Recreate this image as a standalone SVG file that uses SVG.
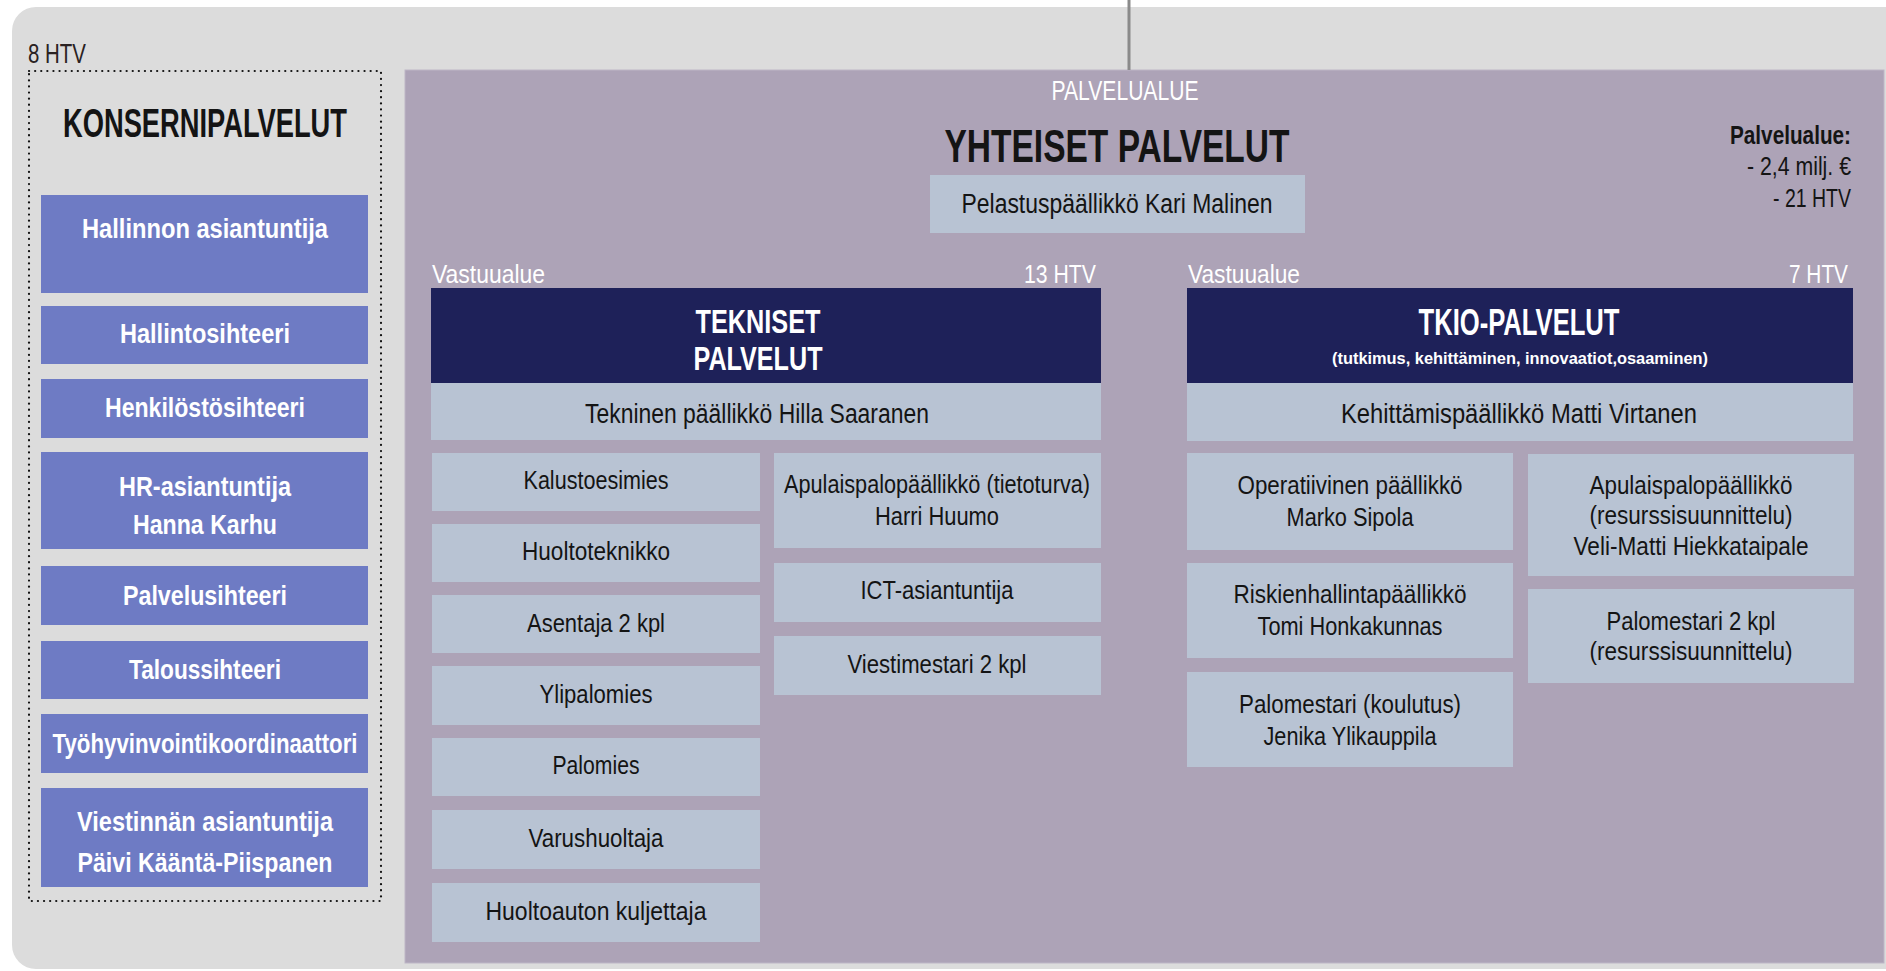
<svg xmlns="http://www.w3.org/2000/svg" width="1886" height="971" viewBox="0 0 1886 971">
<style>
.t{font-family:"Liberation Sans Narrow","Liberation Sans",Arial,sans-serif;}
.b{font-weight:bold;}
.m{text-anchor:middle;}
.e{text-anchor:end;}
.w{fill:#ffffff;}
.k{fill:#141414;}
.blue{fill:#6e7bc4;}
.lt{fill:#b8c3d3;}
.nv{fill:#1e2159;}
.f26{font-size:26px;}
.f27{font-size:27px;}
.f28{font-size:28px;}
</style>
<rect x="12" y="7" width="1900" height="962" rx="24" fill="#dcdcdc"/>
<rect x="405" y="70" width="1479" height="893" fill="#ada3b7" stroke="#bdb6c6" stroke-width="1"/>
<g id="connectors">
<line x1="1129" y1="0" x2="1129" y2="70" stroke="#8a8a8a" stroke-width="3"/>
</g>
<g id="konsernipalvelut">
<text class="t f28" x="28" y="63" fill="#2a2222" textLength="58" lengthAdjust="spacingAndGlyphs">8 HTV</text>
<rect x="29" y="71" width="352" height="830" fill="none" stroke="#111" stroke-width="2.2" stroke-dasharray="0.1 6" stroke-linecap="round"/>
<text class="t b m k" x="205" y="137" font-size="40" textLength="284" lengthAdjust="spacingAndGlyphs">KONSERNIPALVELUT</text>
</g>
<g id="k-hallinnon">
<rect class="blue" x="41" y="195" width="327" height="98"/>
<text class="t b m w f28" x="205" y="238" textLength="246" lengthAdjust="spacingAndGlyphs">Hallinnon asiantuntija</text>
</g>
<g id="k-hallintosihteeri">
<rect class="blue" x="41" y="306" width="327" height="58"/>
<text class="t b m w f28" x="205" y="343" textLength="170" lengthAdjust="spacingAndGlyphs">Hallintosihteeri</text>
</g>
<g id="k-henkilostosihteeri">
<rect class="blue" x="41" y="379" width="327" height="59"/>
<text class="t b m w f28" x="205" y="417" textLength="200" lengthAdjust="spacingAndGlyphs">Henkilöstösihteeri</text>
</g>
<g id="k-hr">
<rect class="blue" x="41" y="452" width="327" height="97"/>
<text class="t b m w f28" x="205" y="496" textLength="172" lengthAdjust="spacingAndGlyphs">HR-asiantuntija</text>
<text class="t b m w f28" x="205" y="534" textLength="144" lengthAdjust="spacingAndGlyphs">Hanna Karhu</text>
</g>
<g id="k-palvelusihteeri">
<rect class="blue" x="41" y="566" width="327" height="59"/>
<text class="t b m w f28" x="205" y="605" textLength="164" lengthAdjust="spacingAndGlyphs">Palvelusihteeri</text>
</g>
<g id="k-taloussihteeri">
<rect class="blue" x="41" y="641" width="327" height="58"/>
<text class="t b m w f28" x="205" y="679" textLength="152" lengthAdjust="spacingAndGlyphs">Taloussihteeri</text>
</g>
<g id="k-tyohyvinvointi">
<rect class="blue" x="41" y="714" width="327" height="59"/>
<text class="t b m w f28" x="205" y="753" textLength="305" lengthAdjust="spacingAndGlyphs">Työhyvinvointikoordinaattori</text>
</g>
<g id="k-viestinta">
<rect class="blue" x="41" y="788" width="327" height="99"/>
<text class="t b m w f28" x="205" y="831" textLength="256" lengthAdjust="spacingAndGlyphs">Viestinnän asiantuntija</text>
<text class="t b m w f28" x="205" y="872" textLength="255" lengthAdjust="spacingAndGlyphs">Päivi Kääntä-Piispanen</text>
</g>
<g id="yhteiset-palvelut">
<text class="t m w f28" x="1125" y="100" textLength="147" lengthAdjust="spacingAndGlyphs">PALVELUALUE</text>
<text class="t b m k" x="1117" y="162" font-size="47" textLength="345" lengthAdjust="spacingAndGlyphs">YHTEISET PALVELUT</text>
<rect class="lt" x="930" y="175" width="375" height="58"/>
<text class="t m k f27" x="1117" y="213" textLength="311" lengthAdjust="spacingAndGlyphs">Pelastuspäällikkö Kari Malinen</text>
<text class="t b e k f26" x="1851" y="144" textLength="121" lengthAdjust="spacingAndGlyphs">Palvelualue:</text>
<text class="t e k f26" x="1851" y="175" textLength="104" lengthAdjust="spacingAndGlyphs">- 2,4 milj. €</text>
<text class="t e k f26" x="1851" y="207" textLength="78" lengthAdjust="spacingAndGlyphs">- 21 HTV</text>
</g>
<g id="tekniset-palvelut">
<text class="t w f26" x="432" y="283" textLength="113" lengthAdjust="spacingAndGlyphs">Vastuualue</text>
<text class="t e w f26" x="1096" y="283" textLength="72" lengthAdjust="spacingAndGlyphs">13 HTV</text>
<rect class="nv" x="431" y="288" width="670" height="95"/>
<text class="t b m w" x="758" y="333" font-size="34" textLength="125" lengthAdjust="spacingAndGlyphs">TEKNISET</text>
<text class="t b m w" x="758" y="370" font-size="34" textLength="129" lengthAdjust="spacingAndGlyphs">PALVELUT</text>
<rect class="lt" x="431" y="383" width="670" height="57"/>
<text class="t m k f27" x="757" y="423" textLength="344" lengthAdjust="spacingAndGlyphs">Tekninen päällikkö Hilla Saaranen</text>
</g>
<g id="t-kalustoesimies">
<rect class="lt" x="432" y="453" width="328" height="58"/>
<text class="t m k f26" x="596" y="489" textLength="145" lengthAdjust="spacingAndGlyphs">Kalustoesimies</text>
</g>
<g id="t-huoltoteknikko">
<rect class="lt" x="432" y="524" width="328" height="58"/>
<text class="t m k f26" x="596" y="560" textLength="148" lengthAdjust="spacingAndGlyphs">Huoltoteknikko</text>
</g>
<g id="t-asentaja">
<rect class="lt" x="432" y="595" width="328" height="58"/>
<text class="t m k f26" x="596" y="632" textLength="138" lengthAdjust="spacingAndGlyphs">Asentaja 2 kpl</text>
</g>
<g id="t-ylipalomies">
<rect class="lt" x="432" y="666" width="328" height="59"/>
<text class="t m k f26" x="596" y="703" textLength="113" lengthAdjust="spacingAndGlyphs">Ylipalomies</text>
</g>
<g id="t-palomies">
<rect class="lt" x="432" y="738" width="328" height="58"/>
<text class="t m k f26" x="596" y="774" textLength="87" lengthAdjust="spacingAndGlyphs">Palomies</text>
</g>
<g id="t-varushuoltaja">
<rect class="lt" x="432" y="810" width="328" height="59"/>
<text class="t m k f26" x="596" y="847" textLength="135" lengthAdjust="spacingAndGlyphs">Varushuoltaja</text>
</g>
<g id="t-huoltoauto">
<rect class="lt" x="432" y="883" width="328" height="59"/>
<text class="t m k f26" x="596" y="920" textLength="221" lengthAdjust="spacingAndGlyphs">Huoltoauton kuljettaja</text>
</g>
<g id="t-apulaispalopaallikko">
<rect class="lt" x="774" y="453" width="327" height="95"/>
<text class="t m k f26" x="937" y="493" textLength="306" lengthAdjust="spacingAndGlyphs">Apulaispalopäällikkö (tietoturva)</text>
<text class="t m k f26" x="937" y="525" textLength="124" lengthAdjust="spacingAndGlyphs">Harri Huumo</text>
</g>
<g id="t-ict">
<rect class="lt" x="774" y="563" width="327" height="59"/>
<text class="t m k f26" x="937" y="599" textLength="153" lengthAdjust="spacingAndGlyphs">ICT-asiantuntija</text>
</g>
<g id="t-viestimestari">
<rect class="lt" x="774" y="636" width="327" height="59"/>
<text class="t m k f26" x="937" y="673" textLength="179" lengthAdjust="spacingAndGlyphs">Viestimestari 2 kpl</text>
</g>
<g id="tkio-palvelut">
<text class="t w f26" x="1188" y="283" textLength="112" lengthAdjust="spacingAndGlyphs">Vastuualue</text>
<text class="t e w f26" x="1848" y="283" textLength="59" lengthAdjust="spacingAndGlyphs">7 HTV</text>
<rect class="nv" x="1187" y="288" width="666" height="95"/>
<text class="t b m w" x="1519" y="335" font-size="37" textLength="201" lengthAdjust="spacingAndGlyphs">TKIO-PALVELUT</text>
<text class="t b m w" x="1520" y="364" font-size="17" textLength="376" lengthAdjust="spacingAndGlyphs">(tutkimus, kehittäminen, innovaatiot,osaaminen)</text>
<rect class="lt" x="1187" y="383" width="666" height="58"/>
<text class="t m k f27" x="1519" y="423" textLength="356" lengthAdjust="spacingAndGlyphs">Kehittämispäällikkö Matti Virtanen</text>
</g>
<g id="r-operatiivinen">
<rect class="lt" x="1187" y="453" width="326" height="97"/>
<text class="t m k f26" x="1350" y="494" textLength="225" lengthAdjust="spacingAndGlyphs">Operatiivinen päällikkö</text>
<text class="t m k f26" x="1350" y="526" textLength="127" lengthAdjust="spacingAndGlyphs">Marko Sipola</text>
</g>
<g id="r-riskienhallinta">
<rect class="lt" x="1187" y="563" width="326" height="95"/>
<text class="t m k f26" x="1350" y="603" textLength="233" lengthAdjust="spacingAndGlyphs">Riskienhallintapäällikkö</text>
<text class="t m k f26" x="1350" y="635" textLength="185" lengthAdjust="spacingAndGlyphs">Tomi Honkakunnas</text>
</g>
<g id="r-palomestari-koulutus">
<rect class="lt" x="1187" y="672" width="326" height="95"/>
<text class="t m k f26" x="1350" y="713" textLength="222" lengthAdjust="spacingAndGlyphs">Palomestari (koulutus)</text>
<text class="t m k f26" x="1350" y="745" textLength="173" lengthAdjust="spacingAndGlyphs">Jenika Ylikauppila</text>
</g>
<g id="r-apulaispalopaallikko">
<rect class="lt" x="1528" y="454" width="326" height="122"/>
<text class="t m k f26" x="1691" y="494" textLength="203" lengthAdjust="spacingAndGlyphs">Apulaispalopäällikkö</text>
<text class="t m k f26" x="1691" y="524" textLength="203" lengthAdjust="spacingAndGlyphs">(resurssisuunnittelu)</text>
<text class="t m k f26" x="1691" y="555" textLength="235" lengthAdjust="spacingAndGlyphs">Veli-Matti Hiekkataipale</text>
</g>
<g id="r-palomestari">
<rect class="lt" x="1528" y="589" width="326" height="94"/>
<text class="t m k f26" x="1691" y="630" textLength="169" lengthAdjust="spacingAndGlyphs">Palomestari 2 kpl</text>
<text class="t m k f26" x="1691" y="660" textLength="203" lengthAdjust="spacingAndGlyphs">(resurssisuunnittelu)</text>
</g>
</svg>
